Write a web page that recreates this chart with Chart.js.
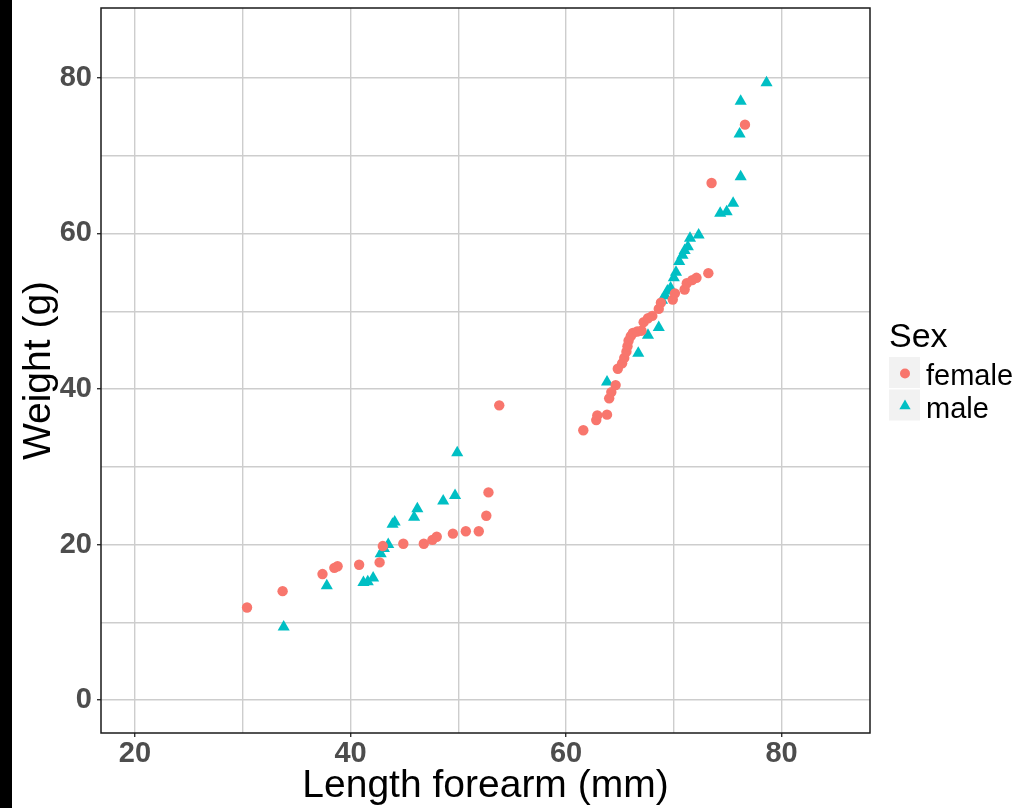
<!DOCTYPE html>
<html>
<head>
<meta charset="utf-8">
<script src="https://cdn.jsdelivr.net/npm/chart.js@4.4.1/dist/chart.umd.min.js"></script>
<style>
  html, body { margin: 0; padding: 0; background: #ffffff; }
  canvas { display: block; }
</style>
</head>
<body>
<canvas id="chart" width="1027" height="808"></canvas>
<script>
// Forearm length (mm) and body weight (g), split by sex
const femaleLength = [30.4, 33.7, 37.4, 38.5, 38.8, 40.8, 42.7, 43.0, 44.9, 46.8, 47.6, 48.0, 49.5, 50.7, 51.9, 52.6, 52.8, 53.8,
  61.6, 62.8, 62.9, 63.8, 64.0, 64.2, 64.6, 64.8, 65.2, 65.4, 65.6, 65.7, 65.8, 66.0, 66.2, 66.6, 67.0, 67.2, 67.6, 68.0,
  68.6, 68.8, 69.9, 70.1, 71.0, 71.2, 71.7, 72.1, 73.2, 73.5, 76.6];
const femaleWeight = [11.9, 14.0, 16.2, 17.0, 17.2, 17.4, 17.7, 19.8, 20.1, 20.1, 20.6, 21.0, 21.4, 21.7, 21.7, 23.7, 26.7, 37.9,
  34.7, 36.0, 36.6, 36.7, 38.8, 39.6, 40.5, 42.6, 43.3, 44.0, 44.8, 45.5, 46.2, 46.8, 47.2, 47.4, 47.5, 48.6, 49.1, 49.4,
  50.3, 51.1, 51.5, 52.3, 52.8, 53.6, 54.0, 54.3, 54.9, 66.5, 74.0];

const maleLength = [33.8, 37.8, 41.2, 41.6, 42.1, 42.8, 43.1, 43.5, 43.9, 44.1, 45.9, 46.2, 48.6, 49.7, 49.9,
  63.8, 66.7, 67.6, 68.6, 68.9, 69.2, 69.4, 69.7, 70.0, 70.2, 70.5, 70.8, 71.0, 71.3, 71.5, 72.3,
  74.3, 74.9, 75.5, 76.2, 76.1, 76.2, 78.6];
const maleWeight = [9.4, 14.7, 15.1, 15.2, 15.7, 18.8, 19.5, 20.0, 22.6, 22.9, 23.5, 24.6, 25.6, 26.3, 31.8,
  40.9, 44.6, 46.9, 47.9, 51.4, 52.0, 52.6, 53.0, 54.3, 55.0, 56.4, 57.2, 57.8, 58.3, 59.4, 59.8,
  62.6, 62.8, 63.9, 67.3, 72.8, 77.0, 79.4];

const sexLabels = ['female', 'male'];
const sexColors = ['#F8766D', '#00BFC4'];
const sexShapes = ['circle', 'triangle'];

// Grid lines every 10, labels every 20
const xGridValues = [20, 30, 40, 50, 60, 70, 80];
const xTickLabels = [20, 40, 60, 80];
const yGridValues = [0, 10, 20, 30, 40, 50, 60, 70, 80];
const yTickLabels = [0, 20, 40, 60, 80];

const FONT = "'Liberation Sans', Arial, sans-serif";

function toPoints(xs, ys) {
  return xs.map((x, i) => ({ x: x, y: ys[i] }));
}

// White page with a dark strip down the left edge
const pageBackground = {
  id: 'pageBackground',
  beforeDraw(chart) {
    const ctx = chart.ctx;
    ctx.save();
    ctx.fillStyle = '#ffffff';
    ctx.fillRect(0, 0, chart.width, chart.height);
    ctx.fillStyle = '#000000';
    ctx.fillRect(0, 0, 12, chart.height);
    ctx.restore();
  }
};

// Black frame around the plotting panel
const panelFrame = {
  id: 'panelFrame',
  afterDatasetsDraw(chart) {
    const a = chart.chartArea;
    const ctx = chart.ctx;
    ctx.save();
    ctx.strokeStyle = '#1a1a1a';
    ctx.lineWidth = 1.5;
    ctx.strokeRect(a.left, a.top, a.right - a.left, a.bottom - a.top);
    ctx.restore();
  }
};

// Legend with a title and grey key boxes
const sexLegend = {
  id: 'sexLegend',
  afterDraw(chart) {
    const ctx = chart.ctx;
    ctx.save();
    ctx.fillStyle = '#000000';
    ctx.textAlign = 'left';
    ctx.textBaseline = 'alphabetic';
    ctx.font = '34px ' + FONT;
    ctx.fillText('Sex', 889, 347);
    chart.data.datasets.forEach((ds, i) => {
      const top = 357 + i * 32.5;
      ctx.fillStyle = '#F2F2F2';
      ctx.fillRect(889, top, 31, 31);
      Chart.helpers.drawPoint(ctx, {
        pointStyle: ds.pointStyle,
        radius: ds.pointStyle === 'triangle' ? 6.5 : 5,
        borderWidth: 0
      }, 905, top + 16.5);
      ctx.fillStyle = ds.backgroundColor;
      ctx.fill();
      ctx.fillStyle = '#000000';
      ctx.font = '29px ' + FONT;
      ctx.fillText(ds.label, 926, top + 28);
    });
    ctx.restore();
  }
};

const datasets = [
  { x: femaleLength, y: femaleWeight },
  { x: maleLength, y: maleWeight }
].map((s, i) => ({
  label: sexLabels[i],
  data: toPoints(s.x, s.y),
  pointStyle: sexShapes[i],
  pointRadius: sexShapes[i] === 'triangle' ? 7 : 5.2,
  backgroundColor: sexColors[i],
  borderColor: sexColors[i],
  borderWidth: 0,
  showLine: false
}));

function tickColorFor(labels) {
  return ctx => (ctx.tick && labels.includes(ctx.tick.value)) ? '#333333' : 'rgba(0,0,0,0)';
}

new Chart(document.getElementById('chart'), {
  type: 'scatter',
  data: { datasets: datasets },
  plugins: [pageBackground, panelFrame, sexLegend],
  options: {
    responsive: false,
    devicePixelRatio: 1,
    animation: false,
    layout: { padding: { left: 0, right: 157, top: 8, bottom: 0 } },
    plugins: {
      legend: { display: false },
      tooltip: { enabled: false },
      title: { display: false }
    },
    scales: {
      x: {
        type: 'linear',
        min: 16.85,
        max: 88.2,
        afterBuildTicks: scale => { scale.ticks = xGridValues.map(v => ({ value: v })); },
        afterFit: scale => {
          scale.height = 75;
          scale.paddingLeft = 0;
          scale.paddingRight = 0;
        },
        grid: {
          color: '#cdcdcd',
          lineWidth: 1.4,
          drawTicks: true,
          tickLength: 4,
          tickColor: tickColorFor(xTickLabels),
          tickWidth: 1.4
        },
        border: { display: false },
        ticks: {
          padding: 2,
          color: '#4D4D4D',
          font: { family: FONT, size: 29, weight: 'bold', lineHeight: 1 },
          maxRotation: 0,
          autoSkip: false,
          callback: v => xTickLabels.includes(v) ? String(v) : ''
        },
        title: {
          display: true,
          text: 'Length forearm (mm)',
          color: '#000000',
          font: { family: FONT, size: 39, lineHeight: 1 },
          padding: { top: 0, bottom: 2 }
        }
      },
      y: {
        type: 'linear',
        min: -4.24,
        max: 89.0,
        afterBuildTicks: scale => { scale.ticks = yGridValues.map(v => ({ value: v })); },
        afterFit: scale => {
          scale.width = 101;
          scale.paddingTop = 0;
          scale.paddingBottom = 0;
        },
        grid: {
          color: '#cdcdcd',
          lineWidth: 1.4,
          drawTicks: true,
          tickLength: 4,
          tickColor: tickColorFor(yTickLabels),
          tickWidth: 1.4
        },
        border: { display: false },
        ticks: {
          padding: 5,
          color: '#4D4D4D',
          font: { family: FONT, size: 29, weight: 'bold', lineHeight: 1 },
          autoSkip: false,
          callback: v => yTickLabels.includes(v) ? String(v) : ''
        },
        title: {
          display: true,
          text: 'Weight (g)',
          color: '#000000',
          font: { family: FONT, size: 39, lineHeight: 1 },
          padding: { top: 20, bottom: 0 }
        }
      }
    }
  }
});
</script>
</body>
</html>
